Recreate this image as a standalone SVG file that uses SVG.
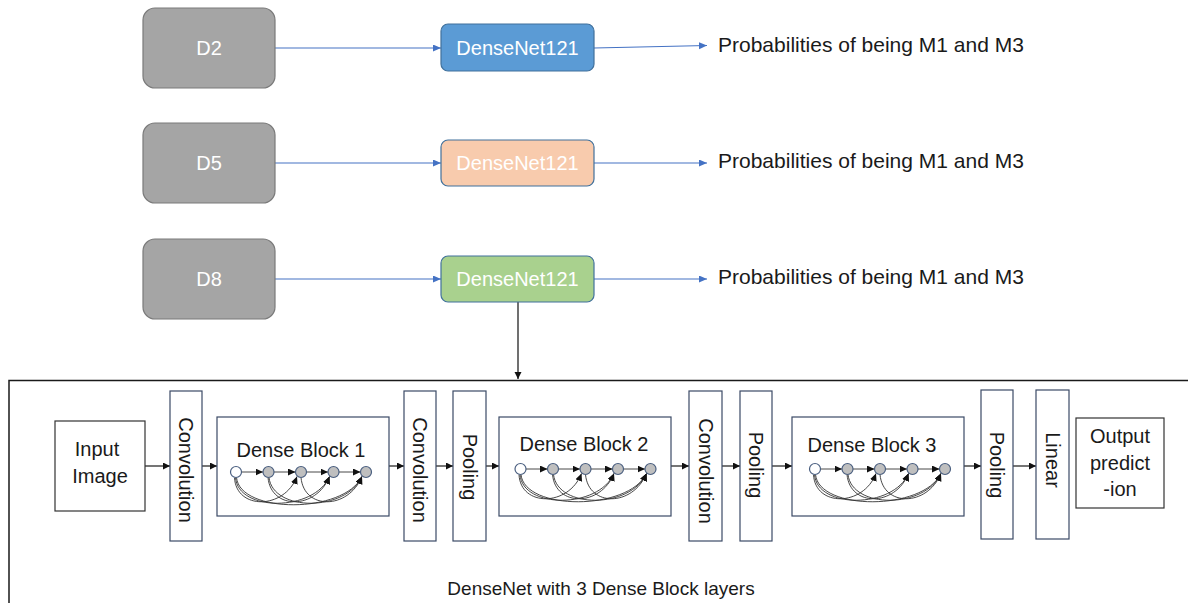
<svg xmlns="http://www.w3.org/2000/svg" width="1188" height="603" viewBox="0 0 1188 603">
<style>
text{font-family:"Liberation Sans",Arial,sans-serif;fill:#1a1a1a}
.dset{fill:#A5A5A5;stroke:#7A7A7A;stroke-width:1.2}
.wt{fill:#ffffff;font-size:20px}
.net{stroke:#41719C;stroke-width:1.2}
.prob{font-size:21px}
.bl{stroke:#4472C4;stroke-width:1.2;fill:none}
.k{stroke:#1a1a1a;stroke-width:1.2;fill:none}
.layer{fill:#ffffff;stroke:#3B4A66;stroke-width:1.2}
.box{fill:#ffffff;stroke:#333333;stroke-width:1.2}
.lt{font-size:20px}
.node{fill:#BFBFBF;stroke:#4A5F80;stroke-width:1.2}
.n0{fill:#ffffff;stroke:#4A5F80;stroke-width:1.2}
.cv{stroke:#333333;stroke-width:0.9;fill:none}
</style>
<defs>
<marker id="ab" markerUnits="userSpaceOnUse" markerWidth="9" markerHeight="8" refX="8" refY="3.5" orient="auto"><path d="M0,0 L8,3.5 L0,7 z" fill="#4472C4"/></marker>
<marker id="ak" markerUnits="userSpaceOnUse" markerWidth="8" markerHeight="8" refX="7" refY="3.5" orient="auto"><path d="M0,0 L7,3.5 L0,7 z" fill="#111"/></marker>
<marker id="as" markerUnits="userSpaceOnUse" markerWidth="9" markerHeight="8" refX="7.5" refY="3.5" orient="auto"><path d="M0,0 L7.5,3.5 L0,7 z" fill="#111"/></marker>
<g id="dbg">
<g class="cv" marker-end="url(#as)">
<path d="M-1.5,5.5 C0,38 48,38 61,4.5"/>
<path d="M-0.5,5.5 C2,40 78,40 93.5,4.5"/>
<path d="M0.5,5.5 C4,42 108,42 126,4.5"/>
<path d="M32,5.5 C35,38 80,38 93.5,4.5"/>
<path d="M33,5.5 C37,40 110,40 126,4.5"/>
<path d="M65,5.5 C68,38 112,38 126,4.5"/>
</g>
<g class="cv" stroke-width="1.2" marker-end="url(#as)">
<path d="M5.5,0 L27,0"/>
<path d="M38,0 L59.5,0"/>
<path d="M70.5,0 L92,0"/>
<path d="M103,0 L124.5,0"/>
</g>
<circle class="n0" cx="0" cy="0" r="5.5"/>
<circle class="node" cx="32.5" cy="0" r="5.5"/>
<circle class="node" cx="65" cy="0" r="5.5"/>
<circle class="node" cx="97.5" cy="0" r="5.5"/>
<circle class="node" cx="130" cy="0" r="5.5"/>
</g>
</defs>

<g id="connectors">
<path class="bl" d="M275,48 L441,48" marker-end="url(#ab)"/>
<path class="bl" d="M594,48 L707,45.5" marker-end="url(#ab)"/>
<path class="bl" d="M275,163 L441,163" marker-end="url(#ab)"/>
<path class="bl" d="M594,163 L707,163" marker-end="url(#ab)"/>
<path class="bl" d="M275,279 L441,279" marker-end="url(#ab)"/>
<path class="bl" d="M594,279 L707,279" marker-end="url(#ab)"/>
<path d="M518,302 L518,379" stroke="#404040" stroke-width="1.5" fill="none" marker-end="url(#ak)"/>
<g class="k" marker-end="url(#ak)">
<path d="M145,466 L170,466"/>
<path d="M202,466 L217,466"/>
<path d="M389,466 L404,466"/>
<path d="M436,466 L453,466"/>
<path d="M486,466 L499,466"/>
<path d="M671,466 L689,466"/>
<path d="M722,466 L740,466"/>
<path d="M772,466 L792,466"/>
<path d="M964,466 L981,466"/>
<path d="M1013,466 L1036,466"/>
</g>
</g>

<g id="d2"><rect class="dset" x="143" y="8" width="132" height="80" rx="12"/><text class="wt" x="209" y="55" text-anchor="middle">D2</text></g>
<g id="d5"><rect class="dset" x="143" y="123" width="132" height="80" rx="12"/><text class="wt" x="209" y="170" text-anchor="middle">D5</text></g>
<g id="d8"><rect class="dset" x="143" y="239" width="132" height="80" rx="12"/><text class="wt" x="209" y="286" text-anchor="middle">D8</text></g>

<g id="net1"><rect class="net" x="441" y="24" width="153" height="47" rx="7" fill="#5B9BD5"/><text class="wt" x="517.5" y="55" text-anchor="middle">DenseNet121</text></g>
<g id="net2"><rect class="net" x="441" y="140" width="153" height="46" rx="7" fill="#F8CBAD"/><text class="wt" x="517.5" y="170" text-anchor="middle">DenseNet121</text></g>
<g id="net3"><rect class="net" x="441" y="256" width="153" height="46" rx="7" fill="#A9D18E"/><text class="wt" x="517.5" y="286" text-anchor="middle">DenseNet121</text></g>

<g id="prob1"><text class="prob" x="718" y="52">Probabilities of being M1 and M3</text></g>
<g id="prob2"><text class="prob" x="718" y="168">Probabilities of being M1 and M3</text></g>
<g id="prob3"><text class="prob" x="718" y="284">Probabilities of being M1 and M3</text></g>

<g id="frame"><path d="M9,603 L9,380.5 L1188,380.5" fill="none" stroke="#1a1a1a" stroke-width="1.5"/></g>

<g id="input"><rect class="box" x="55" y="421" width="90" height="90"/><text class="lt" x="97" y="456" text-anchor="middle">Input</text><text class="lt" x="100" y="483" text-anchor="middle">Image</text></g>

<g id="conv1"><rect class="layer" x="170" y="391" width="32" height="150"/><text class="lt" transform="translate(186,470) rotate(90)" x="0" y="7" text-anchor="middle">Convolution</text></g>
<g id="db1"><rect class="layer" x="217" y="417" width="172" height="99"/><text class="lt" x="301" y="457" text-anchor="middle">Dense Block 1</text><use href="#dbg" transform="translate(236,472)"/></g>
<g id="conv2"><rect class="layer" x="404" y="391" width="32" height="150"/><text class="lt" transform="translate(420,470) rotate(90)" x="0" y="7" text-anchor="middle">Convolution</text></g>
<g id="pool1"><rect class="layer" x="453" y="391" width="33" height="150"/><text class="lt" transform="translate(469.5,467) rotate(90)" x="0" y="7" text-anchor="middle">Pooling</text></g>
<g id="db2"><rect class="layer" x="499" y="417" width="172" height="99"/><text class="lt" x="584" y="451" text-anchor="middle">Dense Block 2</text><use href="#dbg" transform="translate(520.5,469)"/></g>
<g id="conv3"><rect class="layer" x="689" y="391" width="33" height="150"/><text class="lt" transform="translate(705.5,471) rotate(90)" x="0" y="7" text-anchor="middle">Convolution</text></g>
<g id="pool2"><rect class="layer" x="740" y="391" width="32" height="150"/><text class="lt" transform="translate(756,465) rotate(90)" x="0" y="7" text-anchor="middle">Pooling</text></g>
<g id="db3"><rect class="layer" x="792" y="417" width="172" height="99"/><text class="lt" x="872" y="452" text-anchor="middle">Dense Block 3</text><use href="#dbg" transform="translate(815,469)"/></g>
<g id="pool3"><rect class="layer" x="981" y="390" width="32" height="149"/><text class="lt" transform="translate(997,465) rotate(90)" x="0" y="7" text-anchor="middle">Pooling</text></g>
<g id="linear"><rect class="layer" x="1036" y="390" width="33" height="149"/><text class="lt" transform="translate(1052.5,460) rotate(90)" x="0" y="7" text-anchor="middle">Linear</text></g>
<g id="output"><rect class="box" x="1076" y="418" width="88" height="90"/><text class="lt" x="1120" y="443" text-anchor="middle">Output</text><text class="lt" x="1120" y="470" text-anchor="middle">predict</text><text class="lt" x="1120" y="496" text-anchor="middle">-ion</text></g>

<g id="caption"><text x="601" y="595" text-anchor="middle" font-size="19px">DenseNet with 3 Dense Block layers</text></g>
</svg>
